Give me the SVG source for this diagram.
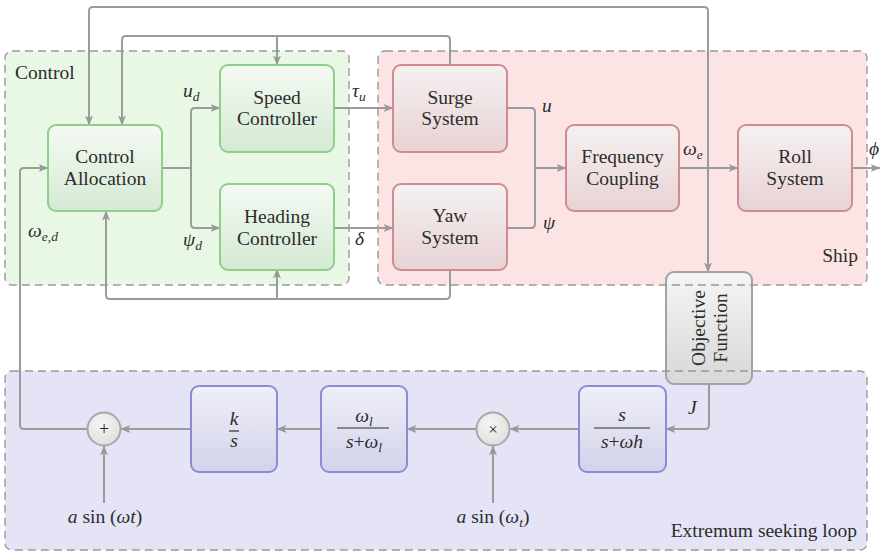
<svg xmlns="http://www.w3.org/2000/svg" width="880" height="552" viewBox="0 0 880 552">
<defs>
<linearGradient id="gG" x1="0" y1="0" x2="0" y2="1"><stop offset="0" stop-color="#f4faf3"/><stop offset="1" stop-color="#d4ead3"/></linearGradient>
<linearGradient id="gR" x1="0" y1="0" x2="0" y2="1"><stop offset="0" stop-color="#f5f1f1"/><stop offset="1" stop-color="#e8d2d4"/></linearGradient>
<linearGradient id="gB" x1="0" y1="0" x2="0" y2="1"><stop offset="0" stop-color="#efeff9"/><stop offset="1" stop-color="#d2d2ea"/></linearGradient>
<linearGradient id="gK" x1="0" y1="0" x2="0" y2="1"><stop offset="0" stop-color="#f5f5f5"/><stop offset="1" stop-color="#d8d8d8"/></linearGradient>
<radialGradient id="gC" cx="0.4" cy="0.35" r="0.7"><stop offset="0" stop-color="#f6f6f4"/><stop offset="1" stop-color="#dededc"/></radialGradient>
<marker id="ar" viewBox="0 0 10 10" refX="9.5" refY="5" markerWidth="10" markerHeight="10" markerUnits="userSpaceOnUse" orient="auto"><path d="M0,1 L10,5 L0,9 L2.5,5 z" fill="#999"/></marker>
</defs>
<g id="region-fills">
<rect x="5" y="51" width="344" height="234" rx="7" fill="#e8f8e5"/>
<rect x="378" y="51" width="489" height="234" rx="7" fill="#fce4e5"/>
<rect x="5" y="371" width="862" height="179" rx="7" fill="#e4e4f6"/>
</g>
<g id="connectors" fill="none" stroke="#9b9b9b" stroke-width="2" marker-end="url(#ar)">
<path d="M162,168 H191" marker-end="none"/>
<path d="M191,168 V112 Q191,108 195,108 H220"/>
<path d="M191,168 V224 Q191,228 195,228 H220"/>
<path d="M334,108 H393"/>
<path d="M334,228 H393"/>
<path d="M507,108 H531 Q535,108 535,112 V168" marker-end="none"/>
<path d="M507,228 H531 Q535,228 535,224 V168" marker-end="none"/>
<path d="M535,168 H566"/>
<path d="M679,168 H738"/>
<path d="M852,168 H880"/>
<path d="M708,168 V11 Q708,7 704,7 H93 Q89,7 89,11 V125"/>
<path d="M708,168 V272"/>
<path d="M450,65 V40 Q450,36 446,36 H126 Q122,36 122,40 V125"/>
<path d="M277,36 V65"/>
<path d="M450,269 V295 Q450,299 446,299 H110 Q106,299 106,295 V211"/>
<path d="M277,299 V269"/>
<path d="M709,384 V425 Q709,429 705,429 H666"/>
<path d="M579,429 H510"/>
<path d="M476,429 H407"/>
<path d="M321,429 H277"/>
<path d="M191,429 H121"/>
<path d="M87,429 H24 Q20,429 20,425 V172 Q20,168 24,168 H48"/>
<path d="M104,503 V446"/>
<path d="M493,503 V446"/>
</g>
<g id="control-allocation"><rect x="48" y="125" width="114" height="86" rx="8" fill="url(#gG)" stroke="#8fcf8b" stroke-width="2"/><text font-family="Liberation Serif" font-size="19.5" fill="#2d2d2d" text-anchor="middle" x="105" y="163">Control<tspan x="105" y="185">Allocation</tspan></text></g>
<g id="speed-controller"><rect x="220" y="65" width="114" height="87" rx="8" fill="url(#gG)" stroke="#8fcf8b" stroke-width="2"/><text font-family="Liberation Serif" font-size="19.5" fill="#2d2d2d" text-anchor="middle" x="277" y="104">Speed<tspan x="277" y="125">Controller</tspan></text></g>
<g id="heading-controller"><rect x="220" y="184" width="114" height="86" rx="8" fill="url(#gG)" stroke="#8fcf8b" stroke-width="2"/><text font-family="Liberation Serif" font-size="19.5" fill="#2d2d2d" text-anchor="middle" x="277" y="223">Heading<tspan x="277" y="245">Controller</tspan></text></g>
<g id="surge-system"><rect x="393" y="65" width="114" height="87" rx="8" fill="url(#gR)" stroke="#cf8b8f" stroke-width="2"/><text font-family="Liberation Serif" font-size="19.5" fill="#2d2d2d" text-anchor="middle" x="450" y="104">Surge<tspan x="450" y="125">System</tspan></text></g>
<g id="yaw-system"><rect x="393" y="184" width="114" height="86" rx="8" fill="url(#gR)" stroke="#cf8b8f" stroke-width="2"/><text font-family="Liberation Serif" font-size="19.5" fill="#2d2d2d" text-anchor="middle" x="450" y="222">Yaw<tspan x="450" y="244">System</tspan></text></g>
<g id="frequency-coupling"><rect x="566" y="125" width="113" height="86" rx="8" fill="url(#gR)" stroke="#cf8b8f" stroke-width="2"/><text font-family="Liberation Serif" font-size="19.5" fill="#2d2d2d" text-anchor="middle" x="622.5" y="163">Frequency<tspan x="622.5" y="185">Coupling</tspan></text></g>
<g id="roll-system"><rect x="738" y="125" width="114" height="86" rx="8" fill="url(#gR)" stroke="#cf8b8f" stroke-width="2"/><text font-family="Liberation Serif" font-size="19.5" fill="#2d2d2d" text-anchor="middle" x="795" y="163">Roll<tspan x="795" y="185">System</tspan></text></g>
<g id="objective-function"><rect x="666" y="272" width="86" height="112" rx="8" fill="url(#gK)" stroke="#a3a3a3" stroke-width="2"/><text font-family="Liberation Serif" font-size="19.5" fill="#2d2d2d" text-anchor="middle" transform="translate(709,328) rotate(-90)"><tspan x="0" y="-4">Objective</tspan><tspan x="0" y="17.5">Function</tspan></text></g>
<g id="hp-filter" font-family="Liberation Serif" font-size="19.5" fill="#2d2d2d" text-anchor="middle"><rect x="579" y="386" width="87" height="86" rx="8" fill="url(#gB)" stroke="#8c8cd4" stroke-width="2"/><text font-style="italic" x="622" y="421">s</text><line x1="594" y1="428" x2="650" y2="428" stroke="#2d2d2d" stroke-width="1.2"/><text x="622" y="448"><tspan font-style="italic">s</tspan>+<tspan font-style="italic">ωh</tspan></text></g>
<g id="multiplier"><circle cx="493" cy="429" r="16.5" fill="url(#gC)" stroke="#a8a8a8" stroke-width="2"/><text font-family="Liberation Serif" font-size="17" fill="#2d2d2d" text-anchor="middle" x="493" y="435">×</text></g>
<g id="lp-filter" font-family="Liberation Serif" font-size="19.5" fill="#2d2d2d" text-anchor="middle"><rect x="321" y="386" width="86" height="86" rx="8" fill="url(#gB)" stroke="#8c8cd4" stroke-width="2"/><text x="364" y="422"><tspan font-style="italic">ω</tspan><tspan font-size="13.5" font-style="italic" dy="4">l</tspan></text><line x1="337" y1="428" x2="389" y2="428" stroke="#2d2d2d" stroke-width="1.2"/><text x="364" y="448"><tspan font-style="italic">s</tspan>+<tspan font-style="italic">ω</tspan><tspan font-size="13.5" font-style="italic" dy="4">l</tspan></text></g>
<g id="integrator" font-family="Liberation Serif" font-size="19.5" fill="#2d2d2d" text-anchor="middle"><rect x="191" y="386" width="86" height="86" rx="8" fill="url(#gB)" stroke="#8c8cd4" stroke-width="2"/><text font-style="italic" x="234" y="425">k</text><line x1="229" y1="431" x2="239" y2="431" stroke="#2d2d2d" stroke-width="1.2"/><text font-style="italic" x="234" y="447">s</text></g>
<g id="adder"><circle cx="104" cy="429" r="16.5" fill="url(#gC)" stroke="#a8a8a8" stroke-width="2"/><text font-family="Liberation Serif" font-size="18" fill="#2d2d2d" text-anchor="middle" x="104" y="435">+</text></g>
<g id="region-borders" fill="none" stroke="#999" stroke-width="1.4" stroke-dasharray="8 5">
<rect x="5" y="51" width="344" height="234" rx="7"/>
<rect x="378" y="51" width="489" height="234" rx="7"/>
<rect x="5" y="371" width="862" height="179" rx="7"/>
</g>
<g id="labels" font-family="Liberation Serif" font-size="19.5" fill="#2d2d2d">
<text x="15" y="79">Control</text>
<text x="858" y="262" text-anchor="end">Ship</text>
<text x="857" y="537" text-anchor="end">Extremum seeking loop</text>
<text x="183" y="97"><tspan font-style="italic">u</tspan><tspan font-size="13.5" font-style="italic" dy="4">d</tspan></text>
<text x="183" y="246"><tspan font-style="italic">ψ</tspan><tspan font-size="13.5" font-style="italic" dy="4">d</tspan></text>
<text x="352" y="97"><tspan font-style="italic">τ</tspan><tspan font-size="13.5" font-style="italic" dy="4">u</tspan></text>
<text font-style="italic" x="355" y="245">δ</text>
<text font-style="italic" x="542" y="112">u</text>
<text font-style="italic" x="543" y="229">ψ</text>
<text x="683" y="155"><tspan font-style="italic">ω</tspan><tspan font-size="13.5" font-style="italic" dy="4">e</tspan></text>
<text font-style="italic" x="869" y="155">ϕ</text>
<text x="28" y="237"><tspan font-style="italic">ω</tspan><tspan font-size="13.5" font-style="italic" dy="4">e,d</tspan></text>
<text font-style="italic" x="688" y="414">J</text>
<text x="105" y="523" text-anchor="middle"><tspan font-style="italic">a</tspan> sin (<tspan font-style="italic">ωt</tspan>)</text>
<text x="493" y="523" text-anchor="middle"><tspan font-style="italic">a</tspan> sin (<tspan font-style="italic">ω</tspan><tspan font-size="13.5" font-style="italic" dy="4">t</tspan><tspan dy="-4">)</tspan></text>
</g>
</svg>
